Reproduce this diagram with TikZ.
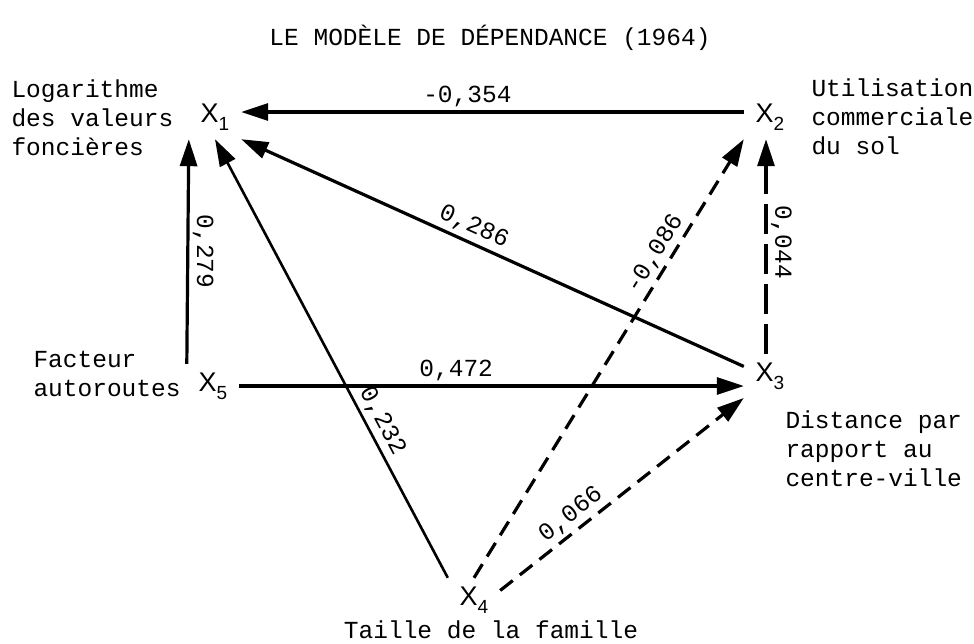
\documentclass[tikz,border=0pt]{standalone}
\usepackage{fontspec}
\setmonofont{Liberation Mono}
\newfontfamily\varfont{Liberation Sans}
\usetikzlibrary{arrows.meta,positioning}
\newcommand{\xsub}[1]{X\raisebox{-8pt}{\fontsize{19}{19}\selectfont #1}}

\begin{document}
\begin{tikzpicture}[x=1pt,y=-1pt,font=\ttfamily\fontsize{24.5}{29}\selectfont,
    var/.style={font=\varfont\fontsize{27}{27}\selectfont,minimum width=52pt,minimum height=44pt,inner sep=0pt},
    lab/.style={inner sep=3.5pt},
    arr/.style={line width=3.2pt,-{Triangle[length=27pt,width=17pt]}},
    dsh/.style={dash pattern=on 16pt off 9pt},
    ldsh/.style={dash pattern=on 30pt off 10pt}]
    \useasboundingbox (0,0) rectangle (974,643);
    \node (title) at (490,38) {LE MODÈLE DE DÉPENDANCE (1964)};
    % variables
    \node[var] (x1) at (215,117) {\xsub{1}};
    \node[var] (x2) at (770,117) {\xsub{2}};
    \node[var] (x3) at (770,376) {\xsub{3}};
    \node[var] (x4) at (474,600) {\xsub{4}};
    \node[var] (x5) at (213,386) {\xsub{5}};
    \node[align=left,anchor=west] (t1) at (8,118) {Logarithme\\des valeurs\\foncières};
    \node[align=left,anchor=west] (t2) at (808,117) {Utilisation\\commerciale\\du sol};
    \node[align=left,anchor=west] (t3) at (782,449) {Distance par\\rapport au\\centre-ville};
    \node (t4) at (491,630) {Taille de la famille};
    \node[align=left,anchor=west] (t5) at (30,374) {Facteur\\autoroutes};
    % paths
    \draw[arr] ([yshift=5pt]x2.west) -- node[lab,above,pos=.55] {-0,354} ([yshift=5pt]x1.east);
    \draw[arr] (x5.north west) -- node[lab,rotate=-90,above,pos=.5] {0,279} (x1.south west);
    \draw[arr,line width=2.6pt] (x4.north west) -- node[lab,sloped,above,pos=.34] {0,232} (x1.south);
    \draw[arr] (x3.160) -- node[lab,sloped,above,pos=.55] {0,286} (x1.south east);
    \draw[arr] (x5.east) -- node[lab,above,pos=.43] {0,472} (x5.east -| x3.west);
    \draw[arr,dsh] (x4.north) -- node[lab,sloped,above,pos=.72] {-0,086} (x2.south west);
    \draw[arr,dsh] (x4.20) -- node[lab,sloped,above,pos=.33] {0,066} (x3.-140);
    \draw[arr,ldsh] ([xshift=-4pt]x3.north) -- node[lab,rotate=-90,above,pos=.52] {0,044} ([xshift=-4pt]x2.south);
\end{tikzpicture}
\end{document}
